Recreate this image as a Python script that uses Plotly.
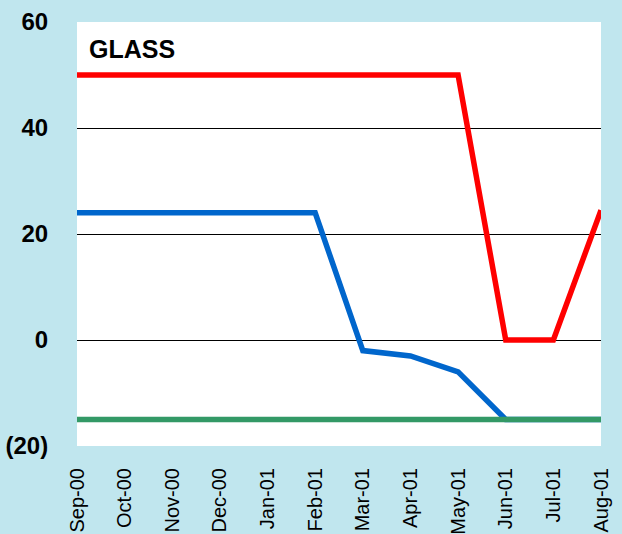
import plotly.graph_objects as go

months = ["Sep-00", "Oct-00", "Nov-00", "Dec-00", "Jan-01", "Feb-01",
          "Mar-01", "Apr-01", "May-01", "Jun-01", "Jul-01", "Aug-01"]
red_vals = [50, 50, 50, 50, 50, 50, 50, 50, 50, 0, 0, 24.5]
blue_vals = [24, 24, 24, 24, 24, 24, -2, -3, -6, -15, -15, -15]
green_vals = [-15] * 12

y_ticks = [-20, 0, 20, 40, 60]
y_ticktext = ["(20)", "0", "20", "40", "60"]

fig = go.Figure()
fig.add_trace(go.Scatter(x=months, y=blue_vals, mode="lines",
                         line=dict(color="#0066CC", width=5.5), showlegend=False))
fig.add_trace(go.Scatter(x=months, y=green_vals, mode="lines",
                         line=dict(color="#339966", width=5.5), showlegend=False))
fig.add_trace(go.Scatter(x=months, y=red_vals, mode="lines",
                         line=dict(color="#FF0000", width=5.5), showlegend=False))

fig.update_layout(
    width=622, height=534,
    paper_bgcolor="#C0E6EE",
    plot_bgcolor="white",
    margin=dict(l=77, r=21, t=22, b=88, autoexpand=False),
    font=dict(family="Liberation Sans, Arial, sans-serif", color="black"),
    annotations=[dict(text="<b>GLASS</b>", xref="paper", yref="paper",
                      x=0.02, y=0.975, xanchor="left", yanchor="top",
                      showarrow=False, font=dict(size=25, color="black"))],
)
fig.update_xaxes(type="category", range=[0, 11], showgrid=False,
                 tickangle=-90, tickfont=dict(size=20), automargin=False,
                 ticks="outside", ticklen=13, tickcolor="rgba(0,0,0,0)",
                 showline=False, zeroline=False)
fig.update_yaxes(range=[-20, 60], tickvals=y_ticks,
                 ticktext=["<b>" + t + "</b>" for t in y_ticktext],
                 showgrid=True, gridcolor="black", gridwidth=1,
                 zeroline=False, showline=False, automargin=False,
                 tickfont=dict(size=24),
                 ticks="outside", ticklen=23, tickcolor="rgba(0,0,0,0)")

fig.write_html("out.html", config={"displayModeBar": False},
               post_script="document.body.style.margin='0';")
